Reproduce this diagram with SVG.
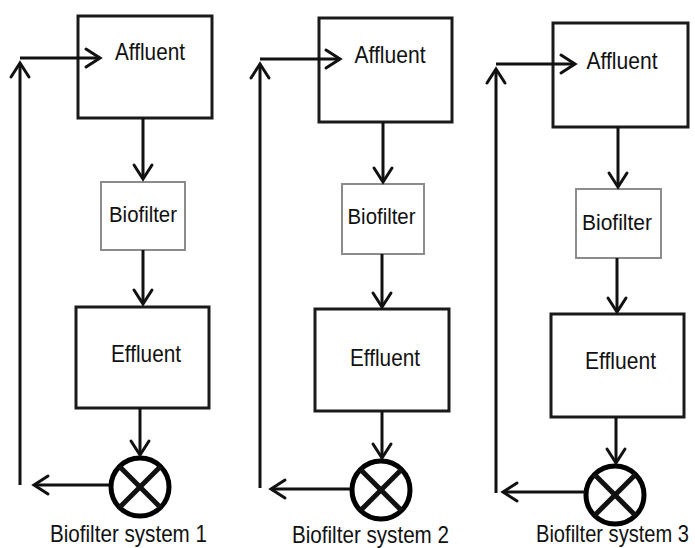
<svg xmlns="http://www.w3.org/2000/svg" width="695" height="548" viewBox="0 0 695 548">
<defs>
<marker id="ah" markerUnits="userSpaceOnUse" markerWidth="40" markerHeight="40" viewBox="-20 -20 40 40" refX="0" refY="0" orient="auto" overflow="visible">
<path d="M-14,-9 L0,0 L-14,9" fill="none" stroke="#111" stroke-width="3" stroke-linecap="round" stroke-linejoin="miter"/>
</marker>
</defs>
<style>
.box{fill:#fff;stroke:#1a1a1a;stroke-width:3}
.bio{fill:#fff;stroke:#8c8c8c;stroke-width:2}
.txt{font-family:"Liberation Sans",Arial,sans-serif;font-size:24px;fill:#111;text-anchor:middle}
.sm{font-size:22px}
.ln{fill:none;stroke:#111;stroke-width:5}
.arr{fill:none;stroke:#111;stroke-width:3;marker-end:url(#ah)}
.valve{fill:#fff;stroke:#000;stroke-width:5}
</style>
<rect width="695" height="548" fill="#fff"/>

<g id="affluent1"><rect class="box" x="78" y="16" width="134" height="102"/><text class="txt" x="150" y="60" textLength="70" lengthAdjust="spacingAndGlyphs">Affluent</text></g>
<g id="biofilter1"><rect class="bio" x="101" y="182" width="84" height="68"/><text class="txt sm" x="143" y="222" textLength="68" lengthAdjust="spacingAndGlyphs">Biofilter</text></g>
<g id="effluent1"><rect class="box" x="76" y="307" width="133" height="101"/><text class="txt" x="146" y="362" textLength="70" lengthAdjust="spacingAndGlyphs">Effluent</text></g>
<g id="valve1"><circle class="valve" cx="140" cy="487" r="29"/><line class="ln" x1="119.5" y1="466.5" x2="160.5" y2="507.5"/><line class="ln" x1="160.5" y1="466.5" x2="119.5" y2="507.5"/></g>
<g id="label1"><text class="txt" x="128.5" y="542" textLength="157" lengthAdjust="spacingAndGlyphs">Biofilter system 1</text></g>

<g id="affluent2"><rect class="box" x="319" y="18" width="133" height="104"/><text class="txt" x="390" y="63" textLength="71" lengthAdjust="spacingAndGlyphs">Affluent</text></g>
<g id="biofilter2"><rect class="bio" x="342" y="184" width="82" height="70"/><text class="txt sm" x="381.5" y="224" textLength="68" lengthAdjust="spacingAndGlyphs">Biofilter</text></g>
<g id="effluent2"><rect class="box" x="315" y="309" width="134" height="102"/><text class="txt" x="385" y="366" textLength="70" lengthAdjust="spacingAndGlyphs">Effluent</text></g>
<g id="valve2"><circle class="valve" cx="381" cy="490" r="29"/><line class="ln" x1="360.5" y1="469.5" x2="401.5" y2="510.5"/><line class="ln" x1="401.5" y1="469.5" x2="360.5" y2="510.5"/></g>
<g id="label2"><text class="txt" x="370.5" y="543" textLength="157" lengthAdjust="spacingAndGlyphs">Biofilter system 2</text></g>

<g id="affluent3"><rect class="box" x="553" y="23" width="135" height="104"/><text class="txt" x="622" y="69" textLength="71" lengthAdjust="spacingAndGlyphs">Affluent</text></g>
<g id="biofilter3"><rect class="bio" x="576" y="189" width="85" height="69"/><text class="txt sm" x="617" y="230" textLength="70" lengthAdjust="spacingAndGlyphs">Biofilter</text></g>
<g id="effluent3"><rect class="box" x="551" y="314" width="133" height="103"/><text class="txt" x="620.5" y="369" textLength="71" lengthAdjust="spacingAndGlyphs">Effluent</text></g>
<g id="valve3"><circle class="valve" cx="615" cy="495" r="29"/><line class="ln" x1="594.5" y1="474.5" x2="635.5" y2="515.5"/><line class="ln" x1="635.5" y1="474.5" x2="594.5" y2="515.5"/></g>
<g id="label3"><text class="txt" x="612.5" y="542" textLength="153" lengthAdjust="spacingAndGlyphs">Biofilter system 3</text></g>

<g id="connectors">
<!-- system 1 -->
<line class="arr" x1="143" y1="118" x2="143" y2="179"/>
<line class="arr" x1="143" y1="250" x2="143" y2="304"/>
<line class="arr" x1="140" y1="408" x2="140" y2="455"/>
<line class="arr" x1="109" y1="485" x2="34" y2="485"/>
<line class="arr" x1="20" y1="485" x2="20" y2="63"/>
<line class="arr" x1="20" y1="58" x2="100" y2="58"/>
<!-- system 2 -->
<line class="arr" x1="383" y1="122" x2="383" y2="182"/>
<line class="arr" x1="382" y1="254" x2="382" y2="307"/>
<line class="arr" x1="382" y1="411" x2="382" y2="458"/>
<line class="arr" x1="350" y1="489" x2="271" y2="489"/>
<line class="arr" x1="260" y1="488" x2="260" y2="64"/>
<line class="arr" x1="260" y1="59" x2="340" y2="59"/>
<!-- system 3 -->
<line class="arr" x1="618" y1="127" x2="618" y2="187"/>
<line class="arr" x1="617" y1="258" x2="617" y2="312"/>
<line class="arr" x1="616" y1="417" x2="616" y2="463"/>
<line class="arr" x1="585" y1="492" x2="503" y2="492"/>
<line class="arr" x1="496" y1="493" x2="496" y2="69"/>
<line class="arr" x1="496" y1="64" x2="575" y2="64"/>
</g>
</svg>
